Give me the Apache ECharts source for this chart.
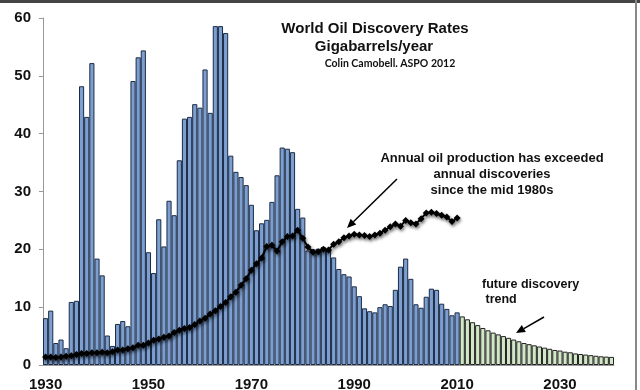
<!DOCTYPE html>
<html><head><meta charset="utf-8">
<script src="https://cdn.jsdelivr.net/npm/echarts@6/dist/echarts.min.js"></script>
<style>html,body{margin:0;padding:0;background:#fff}#c{width:640px;height:390px}</style>
</head><body><div id="c"></div>
<script>
// Categories: one per year
const firstYear = 1930, lastYear = 2040;
const years = [];
for (let y = firstYear; y <= lastYear; y++) years.push(String(y));

// Discovered oil, Gb/yr, 1930-2010
const discovered = [
  8.1, 9.4, 3.8, 4.4, 2.9, 10.9, 11.1, 48.2, 42.9, 52.2,
  18.4, 15.5, 5.1, 3.3, 7.1, 7.6, 6.7, 49.1, 53.2, 54.4,
  19.5, 15.9, 25.2, 20.5, 28.4, 25.9, 35.4, 42.6, 42.9, 45.1,
  44.5, 51.1, 43.6, 58.6, 58.6, 57.4, 36.2, 33.4, 32.5, 31.1,
  27.7, 23.3, 24.5, 25.1, 28.2, 32.8, 37.6, 37.4, 36.8, 27.0,
  25.5, 19.8, 20.0, 20.1, 20.4, 19.9, 18.6, 16.6, 15.7, 15.3,
  13.6, 11.9, 9.8, 9.3, 9.1, 10.0, 10.5, 10.2, 13.0, 17.0,
  18.4, 14.9, 10.5, 9.9, 11.8, 13.2, 13.0, 10.6, 9.7, 8.6,
  9.1
];
// Future discovery trend, 2011-2040
const futureTrend = [
  8.4, 7.9, 7.4, 6.9, 6.4, 6.0, 5.6, 5.3, 5.0, 4.7,
  4.4, 4.1, 3.8, 3.6, 3.4, 3.2, 3.0, 2.8, 2.6, 2.5,
  2.3, 2.2, 2.0, 1.9, 1.8, 1.7, 1.6, 1.5, 1.45, 1.4
];
// Annual oil production, Gb/yr, 1930-2010
const production = [
  1.4, 1.4, 1.3, 1.4, 1.5, 1.6, 1.8, 2.0, 2.0, 2.1,
  2.1, 2.2, 2.1, 2.3, 2.6, 2.6, 2.8, 3.0, 3.4, 3.4,
  3.8, 4.3, 4.5, 4.8, 5.0, 5.6, 6.0, 6.3, 6.5, 7.0,
  7.6, 8.1, 8.8, 9.4, 10.1, 10.8, 11.8, 12.6, 13.8, 14.9,
  16.4, 17.5, 18.5, 20.5, 20.7, 19.7, 21.3, 22.2, 22.3, 23.3,
  21.9, 20.4, 19.5, 19.6, 20.0, 19.9, 20.9, 21.3, 22.0, 22.3,
  22.6, 22.5, 22.4, 22.2, 22.5, 22.8, 23.3, 23.9, 24.4, 24.0,
  25.0, 24.6, 24.4, 25.3, 26.3, 26.4, 26.2, 25.9, 25.6, 24.8,
  25.4
];

const titleLines = ['World Oil Discovery Rates', 'Gigabarrels/year', 'Colin Camobell. ASPO 2012'];
const noteLines = ['Annual oil production has exceeded', 'annual discoveries', 'since the mid 1980s'];
const futureLines = ['future discovery', ' trend'];

const pad = (arr, before, total) => {
  const out = new Array(total).fill(null);
  arr.forEach((v, i) => { out[before + i] = v; });
  return out;
};
const N = years.length;
const discSeries = pad(discovered, 0, N);
const futSeries = pad(futureTrend, discovered.length, N);
const prodSeries = pad(production, 0, N);

function arrow(x1, y1, x2, y2) {
  const a = Math.atan2(y2 - y1, x2 - x1), L = 9, W = 4;
  const bx = x2 - L * Math.cos(a), by = y2 - L * Math.sin(a);
  const px = -Math.sin(a) * W, py = Math.cos(a) * W;
  return [
    { type: 'line', shape: { x1: x1, y1: y1, x2: bx, y2: by }, style: { stroke: '#000', lineWidth: 1.5 }, z: 100 },
    { type: 'polygon', shape: { points: [[x2, y2], [bx + px, by + py], [bx - px, by - py]] }, style: { fill: '#000' }, z: 100 }
  ];
}

const font = '"Liberation Sans", Arial, sans-serif';
const chart = echarts.init(document.getElementById('c'), null, { renderer: 'canvas' });
chart.setOption({
  animation: false,
  backgroundColor: '#fff',
  grid: { left: 43, right: 26, top: 18, bottom: 25, containLabel: false, outerBoundsMode: 'none' },
  xAxis: {
    type: 'category', data: years, boundaryGap: true,
    axisLine: { lineStyle: { color: '#999', width: 1 } },
    axisTick: { interval: 9, length: 4, lineStyle: { color: '#999' } },
    axisLabel: { interval: 19, fontFamily: font, fontWeight: 'bold', fontSize: 15, color: '#111', margin: 12 }
  },
  yAxis: {
    type: 'value', min: 0, max: 60, interval: 10,
    axisLine: { show: true, lineStyle: { color: '#999' } },
    axisTick: { show: true, length: 4, lineStyle: { color: '#999' } },
    splitLine: { show: false },
    axisLabel: { fontFamily: font, fontWeight: 'bold', fontSize: 15, color: '#111', margin: 12 }
  },
  series: [
    { type: 'bar', name: 'discovered', data: discSeries, barCategoryGap: '0%', barGap: '-100%',
      itemStyle: { color: '#7c9fd0', borderColor: '#1c2b45', borderWidth: 1 } },
    { type: 'bar', name: 'future', data: futSeries, barCategoryGap: '0%', barGap: '-100%',
      itemStyle: { color: '#d2e7c6', borderColor: '#222', borderWidth: 1 } },
    { type: 'line', name: 'production', data: prodSeries, z: 10,
      symbol: 'diamond', symbolSize: 7, showSymbol: true, showAllSymbol: true,
      lineStyle: { color: '#000', width: 2, shadowColor: 'rgba(0,0,0,0.45)', shadowBlur: 4, shadowOffsetX: 1, shadowOffsetY: 2 },
      itemStyle: { color: '#000', shadowColor: 'rgba(0,0,0,0.45)', shadowBlur: 3, shadowOffsetX: 1, shadowOffsetY: 2 } }
  ],
  graphic: [
    { type: 'rect', shape: { x: 0, y: 0, width: 640, height: 3 }, style: { fill: '#444' }, z: 200 },
    { type: 'rect', shape: { x: 635, y: 0, width: 2, height: 390 }, style: { fill: '#888' }, z: 200 },
    { type: 'text', x: 375, y: 29, style: { text: titleLines[0], font: 'bold 15px ' + font, fill: '#111', align: 'center', verticalAlign: 'middle' } },
    { type: 'text', x: 374, y: 47, style: { text: titleLines[1], font: 'bold 15px ' + font, fill: '#111', align: 'center', verticalAlign: 'middle' } },
    { type: 'text', x: 390, y: 64, style: { text: titleLines[2], font: 'bold 10.5px Lato, "Open Sans", sans-serif', fill: '#111', align: 'center', verticalAlign: 'middle' } },
    { type: 'text', x: 492, y: 158, style: { text: noteLines[0], font: 'bold 13px ' + font, fill: '#111', align: 'center', verticalAlign: 'middle' } },
    { type: 'text', x: 492, y: 174, style: { text: noteLines[1], font: 'bold 13px ' + font, fill: '#111', align: 'center', verticalAlign: 'middle' } },
    { type: 'text', x: 492, y: 190, style: { text: noteLines[2], font: 'bold 13px ' + font, fill: '#111', align: 'center', verticalAlign: 'middle' } },
    { type: 'text', x: 482, y: 285, style: { text: futureLines[0], font: 'bold 12.5px ' + font, fill: '#111', align: 'left', verticalAlign: 'middle' } },
    { type: 'text', x: 482, y: 300, style: { text: futureLines[1], font: 'bold 12.5px ' + font, fill: '#111', align: 'left', verticalAlign: 'middle' } }
  ].concat(arrow(397, 179, 347, 228)).concat(arrow(544, 317, 516, 333))
});
</script></body></html>
